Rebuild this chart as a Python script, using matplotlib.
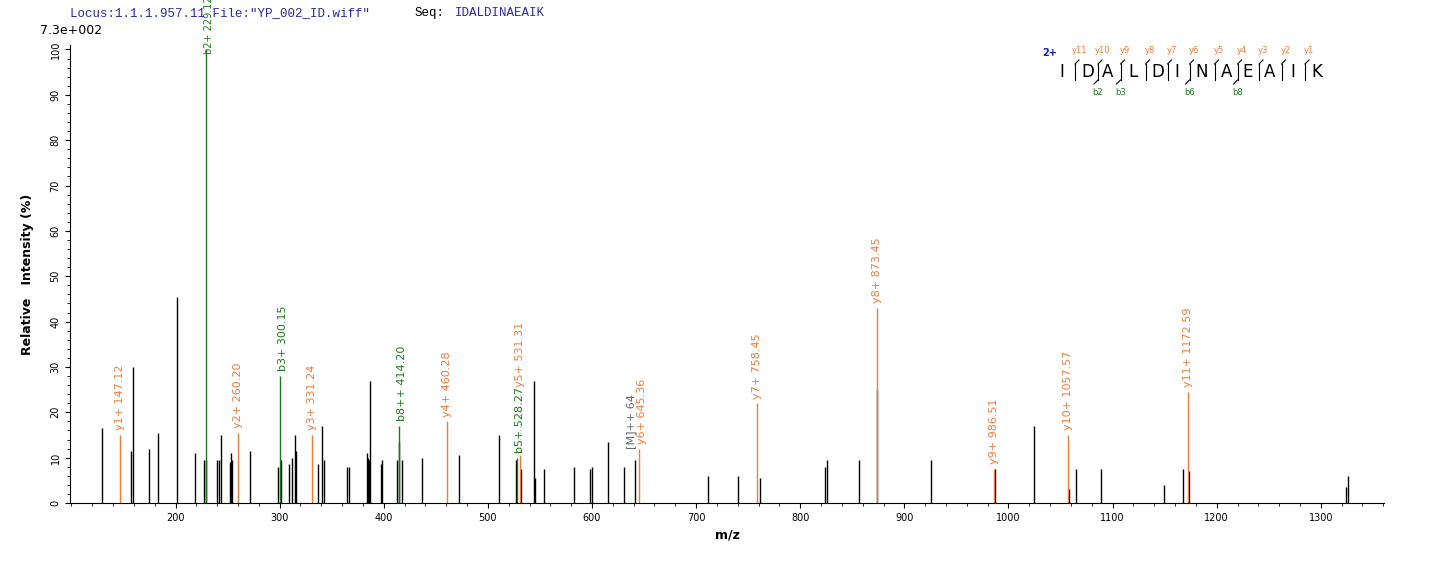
import matplotlib.pyplot as plt
from matplotlib.ticker import MultipleLocator, FixedLocator

# unassigned peaks (m/z, relative intensity %)
black_mz = [129, 157, 159, 175, 183, 201, 219, 227, 229, 240, 242, 244, 252, 253, 254, 272,
            298, 301, 309, 312, 315, 316, 337, 341, 343, 365, 367, 384, 385, 386, 387, 397, 398,
            413, 415, 418, 437, 472, 511, 527, 532, 544, 545, 554, 583, 598, 600, 615, 631, 641,
            711, 740, 761, 824, 826, 856, 874, 926, 987, 1025, 1058, 1065, 1089, 1149, 1168,
            1173, 1324, 1326]
black_int = [16.5, 11.5, 30, 12, 15.5, 45.5, 11, 9.5, 9.5, 9.5, 9.5, 15, 9, 11, 9.5, 11.5,
             8, 9.5, 8.5, 10, 15, 11.5, 8.5, 17, 9.5, 8, 8, 11, 10, 9.5, 27, 8.5, 9.5,
             9.5, 13.5, 9.5, 10, 10.5, 15, 9.5, 7.5, 27, 5.5, 7.5, 8, 7.5, 8, 13.5, 8, 9.5,
             6, 6, 5.5, 8, 9.5, 9.5, 25, 9.5, 7.5, 17, 3, 7.5, 7.5, 4, 7.5,
             7, 3.5, 6]

y_mz = [147.12, 260.20, 331.24, 460.28, 531.31, 645.36, 758.45, 873.45, 986.51, 1057.57, 1172.59]
y_int = [15, 15.5, 15, 18, 10.5, 12, 22, 43, 7.5, 15, 24.5]
y_lab = ["y1+ 147.12", "y2+ 260.20", "y3+ 331.24", "y4+ 460.28", "y5+ 531.31", "y6+ 645.36",
         "y7+ 758.45", "y8+ 873.45", "y9+ 986.51", "y10+ 1057.57", "y11+ 1172.59"]

b_mz = [229.12, 300.15, 414.20, 528.27]
b_int = [100, 28, 17, 10]
b_lab = ["b2+ 229.12", "b3+ 300.15", "b8++ 414.20", "b5+ 528.27"]

seq = "IDALDINAEAIK"
b_breaks = [2, 3, 6, 8]

orange = "#ee7c3c"
green = "#1a7a1a"
W, H = 1436, 562

fig = plt.figure(figsize=(14.36, 5.62), dpi=100)
ax = fig.add_axes([0.049, 0.105, 0.915, 0.815])

ax.vlines(black_mz, 0, black_int, color="black", lw=1)
ax.vlines(y_mz, 0, y_int, color=orange, lw=1)
ax.vlines(b_mz, 0, b_int, color=green, lw=1)

# label offsets where labels would collide
y_lift = {4: 14}
y_dx = {5: 3}
for i, (mz, h, t) in enumerate(zip(y_mz, y_int, y_lab)):
    ax.text(mz + y_dx.get(i, 0), h + 1 + y_lift.get(i, 0), t, rotation=90, color=orange,
            fontsize=8, ha="center", va="bottom")
ax.plot([531.31, 531.31], [11.5, 24.5], color="#bbbbbb", lw=0.8, ls=":")
for mz, h, t in zip(b_mz, b_int, b_lab):
    fs = 7 if h >= 100 else 8
    ax.text(mz + 3, min(h + 1, 99), t, rotation=90, color=green, fontsize=fs, ha="center",
            va="bottom", clip_on=False)
ax.text(645.36 - 8, 12, "[M]++ 64", rotation=90, color="#666666", fontsize=8, ha="center", va="bottom")

ax.set_xlim(99, 1361)
ax.set_ylim(0, 101)
ax.spines["top"].set_visible(False)
ax.spines["right"].set_visible(False)
ax.xaxis.set_major_locator(FixedLocator(range(200, 1400, 100)))
ax.xaxis.set_minor_locator(MultipleLocator(20))
ax.yaxis.set_major_locator(MultipleLocator(10))
ax.yaxis.set_minor_locator(MultipleLocator(2))
ax.tick_params(labelsize=7)
for lbl in ax.get_yticklabels():
    lbl.set_rotation(90)
    lbl.set_va("center")
ax.set_xlabel("m/z", fontsize=9, fontweight="bold")
ax.set_ylabel("Relative   Intensity (%)", fontsize=9, fontweight="bold", labelpad=12)

fig.text(0.028, 0.94, "7.3e+002", fontsize=9)
fig.text(0.049, 0.972, 'Locus:1.1.1.957.11 File:"YP_002_ID.wiff"', family="Liberation Mono",
         fontsize=9, color="#2a2aa8")
fig.text(0.289, 0.972, "Seq:", family="Liberation Mono", fontsize=9, color="black")
fig.text(0.317, 0.972, "IDALDINAEAIK", family="Liberation Mono", fontsize=9, color="#2a2aa8")

# sequence coverage annotation
xs = [1062, 1088, 1108, 1133, 1158, 1177, 1202, 1227, 1248, 1270, 1293, 1317]
for x, c in zip(xs, seq):
    fig.text(x / W, 1 - 72 / H, c, fontsize=12, ha="center", va="center")
fig.text(1050 / W, 1 - 56 / H, "2+", fontsize=7, color="#1515c8", fontweight="bold", ha="center")
for i in range(1, len(seq)):
    xb = (xs[i - 1] + xs[i]) / 2
    fig.text(xb / W + 0.003, 1 - 53 / H, "y%d" % (len(seq) - i), fontsize=6, color=orange, ha="center")
    fig.add_artist(plt.Line2D([xb / W, xb / W], [1 - 64 / H, 1 - 80 / H], color="black", lw=0.8))
    fig.add_artist(plt.Line2D([xb / W, (xb + 4) / W], [1 - 64 / H, 1 - 60 / H], color="black", lw=0.8))
    if i in b_breaks:
        fig.add_artist(plt.Line2D([xb / W, (xb - 4) / W], [1 - 80 / H, 1 - 84 / H], color="black", lw=0.8))
        fig.text(xb / W, 1 - 95 / H, "b%d" % i, fontsize=6, color=green, ha="center")

fig.savefig("out.png", dpi=100)
